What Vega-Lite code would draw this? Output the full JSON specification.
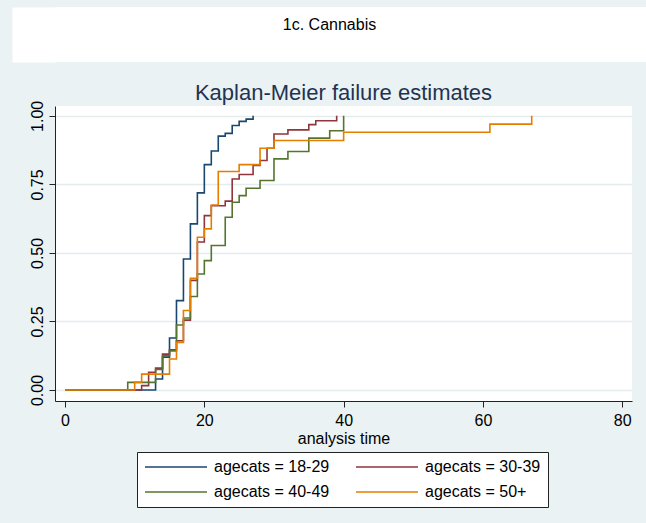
{
  "$schema": "https://vega.github.io/schema/vega-lite/v6.json",
  "background": "#EAF2F3",
  "padding": {"left": 7, "top": 7, "right": 0, "bottom": 15},
  "spacing": 20,
  "config": {"font": "Liberation Sans", "view": {"stroke": null}},
  "vconcat": [
    {
      "width": 591,
      "height": 55,
      "view": {"fill": "white", "stroke": null},
      "data": {"values": [{"label": "1c. Cannabis"}]},
      "mark": {"type": "text", "fontSize": 16, "font": "Liberation Sans", "color": "black", "dy": -10, "dx": -21},
      "encoding": {
        "text": {"field": "label", "type": "nominal"},
        "y": {"datum": 0.5, "type": "quantitative", "scale": {"domain": [0, 1]},
              "axis": {"values": [0.90909, 0.74545, 0.58182, 0.41818, 0.25455, 0.09091], "labels": false, "domain": false, "grid": false, "ticks": true, "tickSize": 43, "tickWidth": 10, "tickCap": "butt", "tickColor": "white", "title": null}}
      }
    },
    {
      "width": 577,
      "height": 295,
      "view": {"fill": "white", "stroke": null},
      "title": {"text": "Kaplan-Meier failure estimates", "fontSize": 22, "fontWeight": "normal", "color": "#223352", "offset": -5, "font": "Liberation Sans"},
      "data": {"values": [
        {"group": "agecats = 18-29", "t": 0, "F": 0},
        {"group": "agecats = 18-29", "t": 13, "F": 0.04},
        {"group": "agecats = 18-29", "t": 14, "F": 0.12},
        {"group": "agecats = 18-29", "t": 15, "F": 0.19},
        {"group": "agecats = 18-29", "t": 16, "F": 0.326},
        {"group": "agecats = 18-29", "t": 17, "F": 0.478},
        {"group": "agecats = 18-29", "t": 18, "F": 0.606},
        {"group": "agecats = 18-29", "t": 19, "F": 0.719},
        {"group": "agecats = 18-29", "t": 20, "F": 0.822},
        {"group": "agecats = 18-29", "t": 21, "F": 0.872},
        {"group": "agecats = 18-29", "t": 22, "F": 0.926},
        {"group": "agecats = 18-29", "t": 23, "F": 0.936},
        {"group": "agecats = 18-29", "t": 24, "F": 0.965},
        {"group": "agecats = 18-29", "t": 25, "F": 0.98},
        {"group": "agecats = 18-29", "t": 26, "F": 0.988},
        {"group": "agecats = 18-29", "t": 27, "F": 1.0},
        {"group": "agecats = 30-39", "t": 0, "F": 0},
        {"group": "agecats = 30-39", "t": 11, "F": 0.016},
        {"group": "agecats = 30-39", "t": 12, "F": 0.065},
        {"group": "agecats = 30-39", "t": 13, "F": 0.08},
        {"group": "agecats = 30-39", "t": 14, "F": 0.131},
        {"group": "agecats = 30-39", "t": 15, "F": 0.147},
        {"group": "agecats = 30-39", "t": 16, "F": 0.18},
        {"group": "agecats = 30-39", "t": 17, "F": 0.255},
        {"group": "agecats = 30-39", "t": 18, "F": 0.4},
        {"group": "agecats = 30-39", "t": 19, "F": 0.54},
        {"group": "agecats = 30-39", "t": 20, "F": 0.636},
        {"group": "agecats = 30-39", "t": 21, "F": 0.672},
        {"group": "agecats = 30-39", "t": 23, "F": 0.689},
        {"group": "agecats = 30-39", "t": 24, "F": 0.77},
        {"group": "agecats = 30-39", "t": 25, "F": 0.786},
        {"group": "agecats = 30-39", "t": 27, "F": 0.819},
        {"group": "agecats = 30-39", "t": 28, "F": 0.837},
        {"group": "agecats = 30-39", "t": 29, "F": 0.882},
        {"group": "agecats = 30-39", "t": 30, "F": 0.934},
        {"group": "agecats = 30-39", "t": 32, "F": 0.949},
        {"group": "agecats = 30-39", "t": 35, "F": 0.968},
        {"group": "agecats = 30-39", "t": 36, "F": 0.982},
        {"group": "agecats = 30-39", "t": 39, "F": 1.0},
        {"group": "agecats = 40-49", "t": 0, "F": 0},
        {"group": "agecats = 40-49", "t": 9, "F": 0.028},
        {"group": "agecats = 40-49", "t": 13, "F": 0.075},
        {"group": "agecats = 40-49", "t": 14, "F": 0.125},
        {"group": "agecats = 40-49", "t": 15, "F": 0.143},
        {"group": "agecats = 40-49", "t": 16, "F": 0.237},
        {"group": "agecats = 40-49", "t": 17, "F": 0.263},
        {"group": "agecats = 40-49", "t": 18, "F": 0.341},
        {"group": "agecats = 40-49", "t": 19, "F": 0.423},
        {"group": "agecats = 40-49", "t": 20, "F": 0.472},
        {"group": "agecats = 40-49", "t": 21, "F": 0.527},
        {"group": "agecats = 40-49", "t": 23, "F": 0.63},
        {"group": "agecats = 40-49", "t": 24, "F": 0.685},
        {"group": "agecats = 40-49", "t": 25, "F": 0.709},
        {"group": "agecats = 40-49", "t": 26, "F": 0.736},
        {"group": "agecats = 40-49", "t": 28, "F": 0.764},
        {"group": "agecats = 40-49", "t": 30, "F": 0.843},
        {"group": "agecats = 40-49", "t": 32, "F": 0.87},
        {"group": "agecats = 40-49", "t": 35, "F": 0.919},
        {"group": "agecats = 40-49", "t": 38, "F": 0.946},
        {"group": "agecats = 40-49", "t": 40, "F": 1.0},
        {"group": "agecats = 50+", "t": 0, "F": 0},
        {"group": "agecats = 50+", "t": 10, "F": 0.028},
        {"group": "agecats = 50+", "t": 11, "F": 0.058},
        {"group": "agecats = 50+", "t": 15, "F": 0.113},
        {"group": "agecats = 50+", "t": 16, "F": 0.174},
        {"group": "agecats = 50+", "t": 17, "F": 0.29},
        {"group": "agecats = 50+", "t": 18, "F": 0.408},
        {"group": "agecats = 50+", "t": 19, "F": 0.557},
        {"group": "agecats = 50+", "t": 20, "F": 0.588},
        {"group": "agecats = 50+", "t": 21, "F": 0.675},
        {"group": "agecats = 50+", "t": 22, "F": 0.797},
        {"group": "agecats = 50+", "t": 25, "F": 0.822},
        {"group": "agecats = 50+", "t": 28, "F": 0.882},
        {"group": "agecats = 50+", "t": 30, "F": 0.91},
        {"group": "agecats = 50+", "t": 40, "F": 0.94},
        {"group": "agecats = 50+", "t": 61, "F": 0.97},
        {"group": "agecats = 50+", "t": 67, "F": 1.0}
      ]},
      "mark": {"type": "line", "interpolate": "step-after", "strokeWidth": 1.6},
      "encoding": {
        "x": {
          "field": "t", "type": "quantitative",
          "scale": {"domain": [-1.44, 81.4], "nice": false, "zero": false},
          "axis": {"values": [0, 20, 40, 60, 80], "title": "analysis time", "grid": false, "tickSize": 6, "labelPadding": 5, "labelFontSize": 16, "labelFont": "Liberation Sans", "labelColor": "black", "labelFlush": false, "titleFontSize": 16, "titleFont": "Liberation Sans", "titleFontWeight": "normal", "titleColor": "black", "titlePadding": 2, "domainColor": "#222222", "tickColor": "#222222"}
        },
        "y": {
          "field": "F", "type": "quantitative",
          "scale": {"domain": [-0.04, 1.036], "nice": false, "zero": false},
          "axis": {"values": [0, 0.25, 0.5, 0.75, 1], "format": ".2f", "labelAngle": -90, "labelAlign": "center", "labelBaseline": "bottom", "labelPadding": 4, "labelFontSize": 16, "labelFont": "Liberation Sans", "labelColor": "black", "labelFlush": false, "labelOverlap": false, "grid": true, "gridColor": "#E4ECEE", "gridWidth": 1.5, "tickSize": 6, "domainColor": "#222222", "tickColor": "#222222", "title": "\u00a0", "titleFontSize": 10, "titlePadding": 12}
        },
        "color": {
          "field": "group", "type": "nominal",
          "scale": {"domain": ["agecats = 18-29", "agecats = 30-39", "agecats = 40-49", "agecats = 50+"], "range": ["#1A476F", "#90353B", "#55752F", "#E37E00"]},
          "legend": {"orient": "none", "legendX": 82, "legendY": 445, "direction": "horizontal", "columns": 2, "title": null, "symbolType": "stroke", "symbolSize": 3844, "symbolStrokeWidth": 1.6, "clipHeight": 16, "labelFontSize": 16, "labelFont": "Liberation Sans", "labelOffset": 6, "labelColor": "black", "labelLimit": 300, "strokeColor": "#222222", "fillColor": "white", "padding": 7, "columnPadding": 25, "rowPadding": 9}
        }
      }
    }
  ]
}
